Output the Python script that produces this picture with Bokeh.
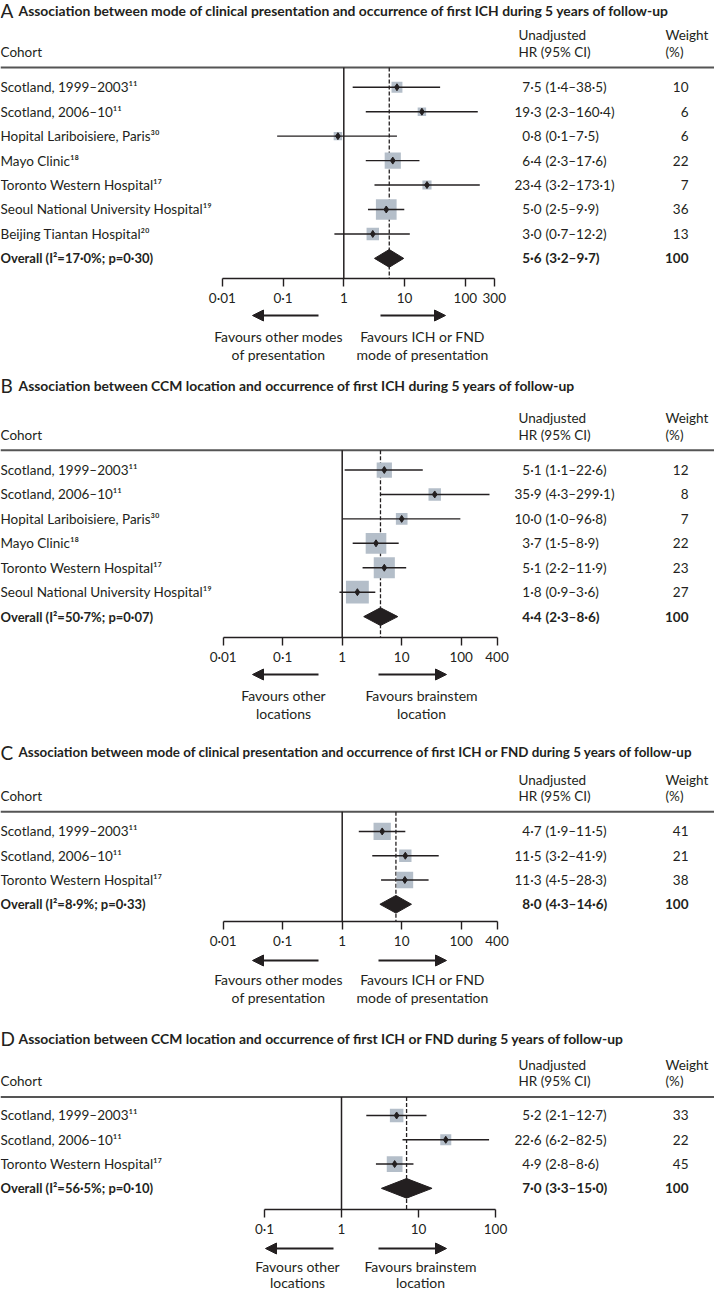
import math
from bokeh.plotting import figure
from bokeh.models import Range1d, LogScale, LogAxis, FixedTicker, CustomJSTickFormatter, Arrow, NormalHead
from bokeh.layouts import column
from bokeh.core.properties import value
from bokeh.embed import file_html
from bokeh.resources import INLINE

# ---------------- DATA ----------------
a_title = "Association between mode of clinical presentation and occurrence of first ICH during 5 years of follow-up"
a_cohorts = ["Scotland, 1999–2003¹¹", "Scotland, 2006–10¹¹", "Hopital Lariboisiere, Paris³⁰", "Mayo Clinic¹⁸",
             "Toronto Western Hospital¹⁷", "Seoul National University Hospital¹⁹", "Beijing Tiantan Hospital²⁰"]
a_hr = [7.5, 19.3, 0.8, 6.4, 23.4, 5.0, 3.0]
a_lo = [1.4, 2.3, 0.08, 2.3, 3.2, 2.5, 0.7]
a_hi = [38.5, 160.4, 7.5, 17.6, 173.1, 9.9, 12.2]
a_w = [10, 6, 6, 22, 7, 36, 13]
a_overall = [5.6, 3.2, 9.7]
a_i2 = "17·0%"
a_p = "0·30"
a_ticks = [0.01, 0.1, 1, 10, 100, 300]
a_fav_left = ["Favours other modes", "of presentation"]
a_fav_right = ["Favours ICH or FND", "mode of presentation"]

b_title = "Association between CCM location and occurrence of first ICH during 5 years of follow-up"
b_cohorts = ["Scotland, 1999–2003¹¹", "Scotland, 2006–10¹¹", "Hopital Lariboisiere, Paris³⁰", "Mayo Clinic¹⁸",
             "Toronto Western Hospital¹⁷", "Seoul National University Hospital¹⁹"]
b_hr = [5.1, 35.9, 10.0, 3.7, 5.1, 1.8]
b_lo = [1.1, 4.3, 1.0, 1.5, 2.2, 0.9]
b_hi = [22.6, 299.1, 96.8, 8.9, 11.9, 3.6]
b_w = [12, 8, 7, 22, 23, 27]
b_overall = [4.4, 2.3, 8.6]
b_i2 = "50·7%"
b_p = "0·07"
b_ticks = [0.01, 0.1, 1, 10, 100, 400]
b_fav_left = ["Favours other", "locations"]
b_fav_right = ["Favours brainstem", "location"]

c_title = "Association between mode of clinical presentation and occurrence of first ICH or FND during 5 years of follow-up"
c_cohorts = ["Scotland, 1999–2003¹¹", "Scotland, 2006–10¹¹", "Toronto Western Hospital¹⁷"]
c_hr = [4.7, 11.5, 11.3]
c_lo = [1.9, 3.2, 4.5]
c_hi = [11.5, 41.9, 28.3]
c_w = [41, 21, 38]
c_overall = [8.0, 4.3, 14.6]
c_i2 = "8·9%"
c_p = "0·33"
c_ticks = [0.01, 0.1, 1, 10, 100, 400]
c_fav_left = ["Favours other modes", "of presentation"]
c_fav_right = ["Favours ICH or FND", "mode of presentation"]

d_title = "Association between CCM location and occurrence of first ICH or FND during 5 years of follow-up"
d_cohorts = ["Scotland, 1999–2003¹¹", "Scotland, 2006–10¹¹", "Toronto Western Hospital¹⁷"]
d_hr = [5.2, 22.6, 4.9]
d_lo = [2.1, 6.2, 2.8]
d_hi = [12.7, 82.5, 8.6]
d_w = [33, 22, 45]
d_overall = [7.0, 3.3, 15.0]
d_i2 = "56·5%"
d_p = "0·10"
d_ticks = [0.1, 1, 10, 100]
d_fav_left = ["Favours other", "locations"]
d_fav_right = ["Favours brainstem", "location"]

# ---------------- LAYOUT / STYLE ----------------
FONT = value("Lato")
INK = "#231f20"
SQ = "#b4bec9"
W = 714
AXA = 26          # px reserved for the axis labels
STEP = 24.8
FS_NAME = "13.5px"
FS_NUM = "13.5px"
FS_HEAD = "13.5px"
FS_FAV = "14px"
FS_OVERALL = "13px"


def fmt(v):
    return f"{v:.1f}".replace(".", "·")


def panel(letter, title, cohorts, hr, lo, hi, w, overall, i2, pv, ticks, favl, favr, L):
    top, line_y, row1, axis_y, bot = L["top"], L["line"], L["row1"], L["axis"], L["bot"]
    x1, dec, k = L["x1"], L["dec"], L["k"]
    hr_lo = 10 ** ((0 - x1) / dec)
    hr_hi = 10 ** ((W - x1) / dec)

    h_top = axis_y + AXA - top
    p = figure(width=W, height=h_top, x_range=Range1d(0, W), y_range=Range1d(axis_y, top),
               x_axis_type=None, y_axis_type=None, toolbar_location=None, output_backend="svg",
               min_border=0, min_border_bottom=AXA, min_border_left=0, min_border_right=0, min_border_top=0)
    p.outline_line_color = None
    p.extra_x_ranges = {"hr": Range1d(hr_lo, hr_hi)}
    p.extra_x_scales = {"hr": LogScale()}

    ax = LogAxis(x_range_name="hr", ticker=FixedTicker(ticks=ticks),
                 formatter=CustomJSTickFormatter(code="return String(tick).replace('.', '\u00b7')"),
                 bounds=(ticks[0], ticks[-1]), major_tick_out=8, major_tick_in=0,
                 minor_tick_out=0, minor_tick_in=0, axis_line_width=1.4, axis_line_color=INK,
                 major_tick_line_width=1.4, major_tick_line_color=INK,
                 major_label_text_font="Lato", major_label_text_font_size="13.5px",
                 major_label_text_color=INK, major_label_standoff=3)
    p.add_layout(ax, "below")

    n = len(cohorts)
    ys = [row1 + i * STEP for i in range(n)]
    y_ov = row1 + n * STEP

    # title
    p.text(x=[0], y=[L["title"]], text=[letter], text_font=FONT, text_font_size="19px",
           text_baseline="middle", text_color=INK)
    p.text(x=[18], y=[L["title"]], text=[title], text_font=FONT, text_font_size=L["tfs"],
           text_font_style="bold", text_baseline="middle", text_color=INK)
    # header
    p.text(x=[0, 518, 665], y=[line_y - 16] * 3, text=["Cohort", "HR (95% CI)", "(%)"], text_font=FONT,
           text_font_size=FS_HEAD, text_baseline="middle", text_color=INK)
    p.text(x=[518, 665], y=[line_y - 33] * 2, text=["Unadjusted", "Weight"], text_font=FONT,
           text_font_size=FS_HEAD, text_baseline="middle", text_color=INK)
    p.segment(x0=[0], y0=[line_y], x1=[W], y1=[line_y], line_color="#555555", line_width=2)

    # reference lines
    p.segment(x0=[overall[0]], y0=[line_y], x1=[overall[0]], y1=[axis_y], x_range_name="hr",
              line_color=INK, line_width=1.3, line_dash="4 2")
    p.segment(x0=[1], y0=[line_y], x1=[1], y1=[axis_y], x_range_name="hr", line_color=INK, line_width=1.5)

    # study rows
    p.scatter(x=hr, y=ys, marker="square", size=[k * math.sqrt(v) for v in w], fill_color=SQ,
              line_color=None, x_range_name="hr")
    p.segment(x0=lo, y0=ys, x1=hi, y1=ys, x_range_name="hr", line_color=INK, line_width=1.4)
    p.scatter(x=hr, y=ys, marker="diamond", size=7, fill_color=INK, line_color=INK, x_range_name="hr")

    # overall diamond
    hh = L["dh"]
    p.patch(x=[overall[1], overall[0], overall[2], overall[0]], y=[y_ov, y_ov - hh, y_ov, y_ov + hh],
            x_range_name="hr", fill_color=INK, line_color=INK)

    # text columns
    p.text(x=[0] * n, y=ys, text=cohorts, text_font=FONT, text_font_size=FS_NAME,
           text_baseline="middle", text_color=INK)
    p.text(x=[541] * n, y=ys, text=[fmt(v) for v in hr], text_font=FONT, text_font_size=FS_NUM,
           text_baseline="middle", text_align="right", text_color=INK)
    p.text(x=[545] * n, y=ys, text=[f"({fmt(a)}–{fmt(b)})" for a, b in zip(lo, hi)], text_font=FONT,
           text_font_size=FS_NUM, text_baseline="middle", text_color=INK)
    p.text(x=[688] * n, y=ys, text=[str(v) for v in w], text_font=FONT, text_font_size=FS_NUM,
           text_baseline="middle", text_align="right", text_color=INK)
    # overall row
    p.text(x=[0], y=[y_ov], text=[f"Overall  (I²={i2}; p={pv})"], text_font=FONT, text_font_size=FS_OVERALL,
           text_font_style="bold", text_baseline="middle", text_color=INK)
    p.text(x=[541], y=[y_ov], text=[fmt(overall[0])], text_font=FONT, text_font_size=FS_NUM,
           text_font_style="bold", text_baseline="middle", text_align="right", text_color=INK)
    p.text(x=[545], y=[y_ov], text=[f"({fmt(overall[1])}–{fmt(overall[2])})"], text_font=FONT,
           text_font_size=FS_NUM, text_font_style="bold", text_baseline="middle", text_color=INK)
    p.text(x=[688], y=[y_ov], text=["100"], text_font=FONT, text_font_size=FS_NUM,
           text_font_style="bold", text_baseline="middle", text_align="right", text_color=INK)

    # bottom strip: arrows + favours
    b0 = axis_y + AXA
    q = figure(width=W, height=bot - b0, x_range=Range1d(0, W), y_range=Range1d(bot, b0),
               x_axis_type=None, y_axis_type=None, toolbar_location=None, output_backend="svg",
               min_border=0, min_border_left=0, min_border_right=0, min_border_top=0, min_border_bottom=0)
    q.outline_line_color = None
    ya = axis_y + L["arrow"]
    for xs, xe in [L["larrow"], L["rarrow"]]:
        q.add_layout(Arrow(end=NormalHead(size=11, fill_color=INK, line_color=INK, line_width=1),
                           x_start=xs, y_start=ya, x_end=xe, y_end=ya, line_color=INK, line_width=2.2))
    yf = [axis_y + L["fav1"], axis_y + L["fav2"]]
    q.text(x=[L["lcx"]] * 2, y=yf, text=favl, text_font=FONT, text_font_size=FS_FAV,
           text_baseline="middle", text_align="center", text_color=INK)
    q.text(x=[L["rcx"]] * 2, y=yf, text=favr, text_font=FONT, text_font_size=FS_FAV,
           text_baseline="middle", text_align="center", text_color=INK)
    return [p, q]


LA = dict(top=0, title=10, tfs="13.9px", line=68, row1=88, axis=282, bot=370, x1=343.3, dec=60.75, k=3.45, dh=9,
          arrow=33, fav1=54, fav2=72, larrow=(318, 252), rarrow=(380, 445), lcx=278, rcx=422)
LB = dict(top=370, title=385, tfs="13.9px", line=451, row1=471, axis=641, bot=735, x1=341.7, dec=59.5, k=4.4, dh=9,
          arrow=33, fav1=54, fav2=72, larrow=(318, 252), rarrow=(378, 446), lcx=283, rcx=421)
LC = dict(top=735, title=752, tfs="13.4px", line=813, row1=833, axis=925, bot=1020, x1=341.7, dec=59.5, k=2.7, dh=9,
          arrow=35, fav1=54, fav2=72, larrow=(318, 252), rarrow=(378, 446), lcx=278, rcx=422)
LD = dict(top=1020, title=1038, tfs="13.9px", line=1098, row1=1117, axis=1213, bot=1291, x1=341.0, dec=77.0, k=2.35,
          dh=10, arrow=35, fav1=53, fav2=69, larrow=(333, 265), rarrow=(378, 446), lcx=297, rcx=420)

figs = []
figs += panel("A", a_title, a_cohorts, a_hr, a_lo, a_hi, a_w, a_overall, a_i2, a_p, a_ticks, a_fav_left, a_fav_right, LA)
figs += panel("B", b_title, b_cohorts, b_hr, b_lo, b_hi, b_w, b_overall, b_i2, b_p, b_ticks, b_fav_left, b_fav_right, LB)
figs += panel("C", c_title, c_cohorts, c_hr, c_lo, c_hi, c_w, c_overall, c_i2, c_p, c_ticks, c_fav_left, c_fav_right, LC)
figs += panel("D", d_title, d_cohorts, d_hr, d_lo, d_hi, d_w, d_overall, d_i2, d_p, d_ticks, d_fav_left, d_fav_right, LD)

layout = column(*figs, spacing=0)
open("out.html", "w").write(file_html(layout, INLINE))
